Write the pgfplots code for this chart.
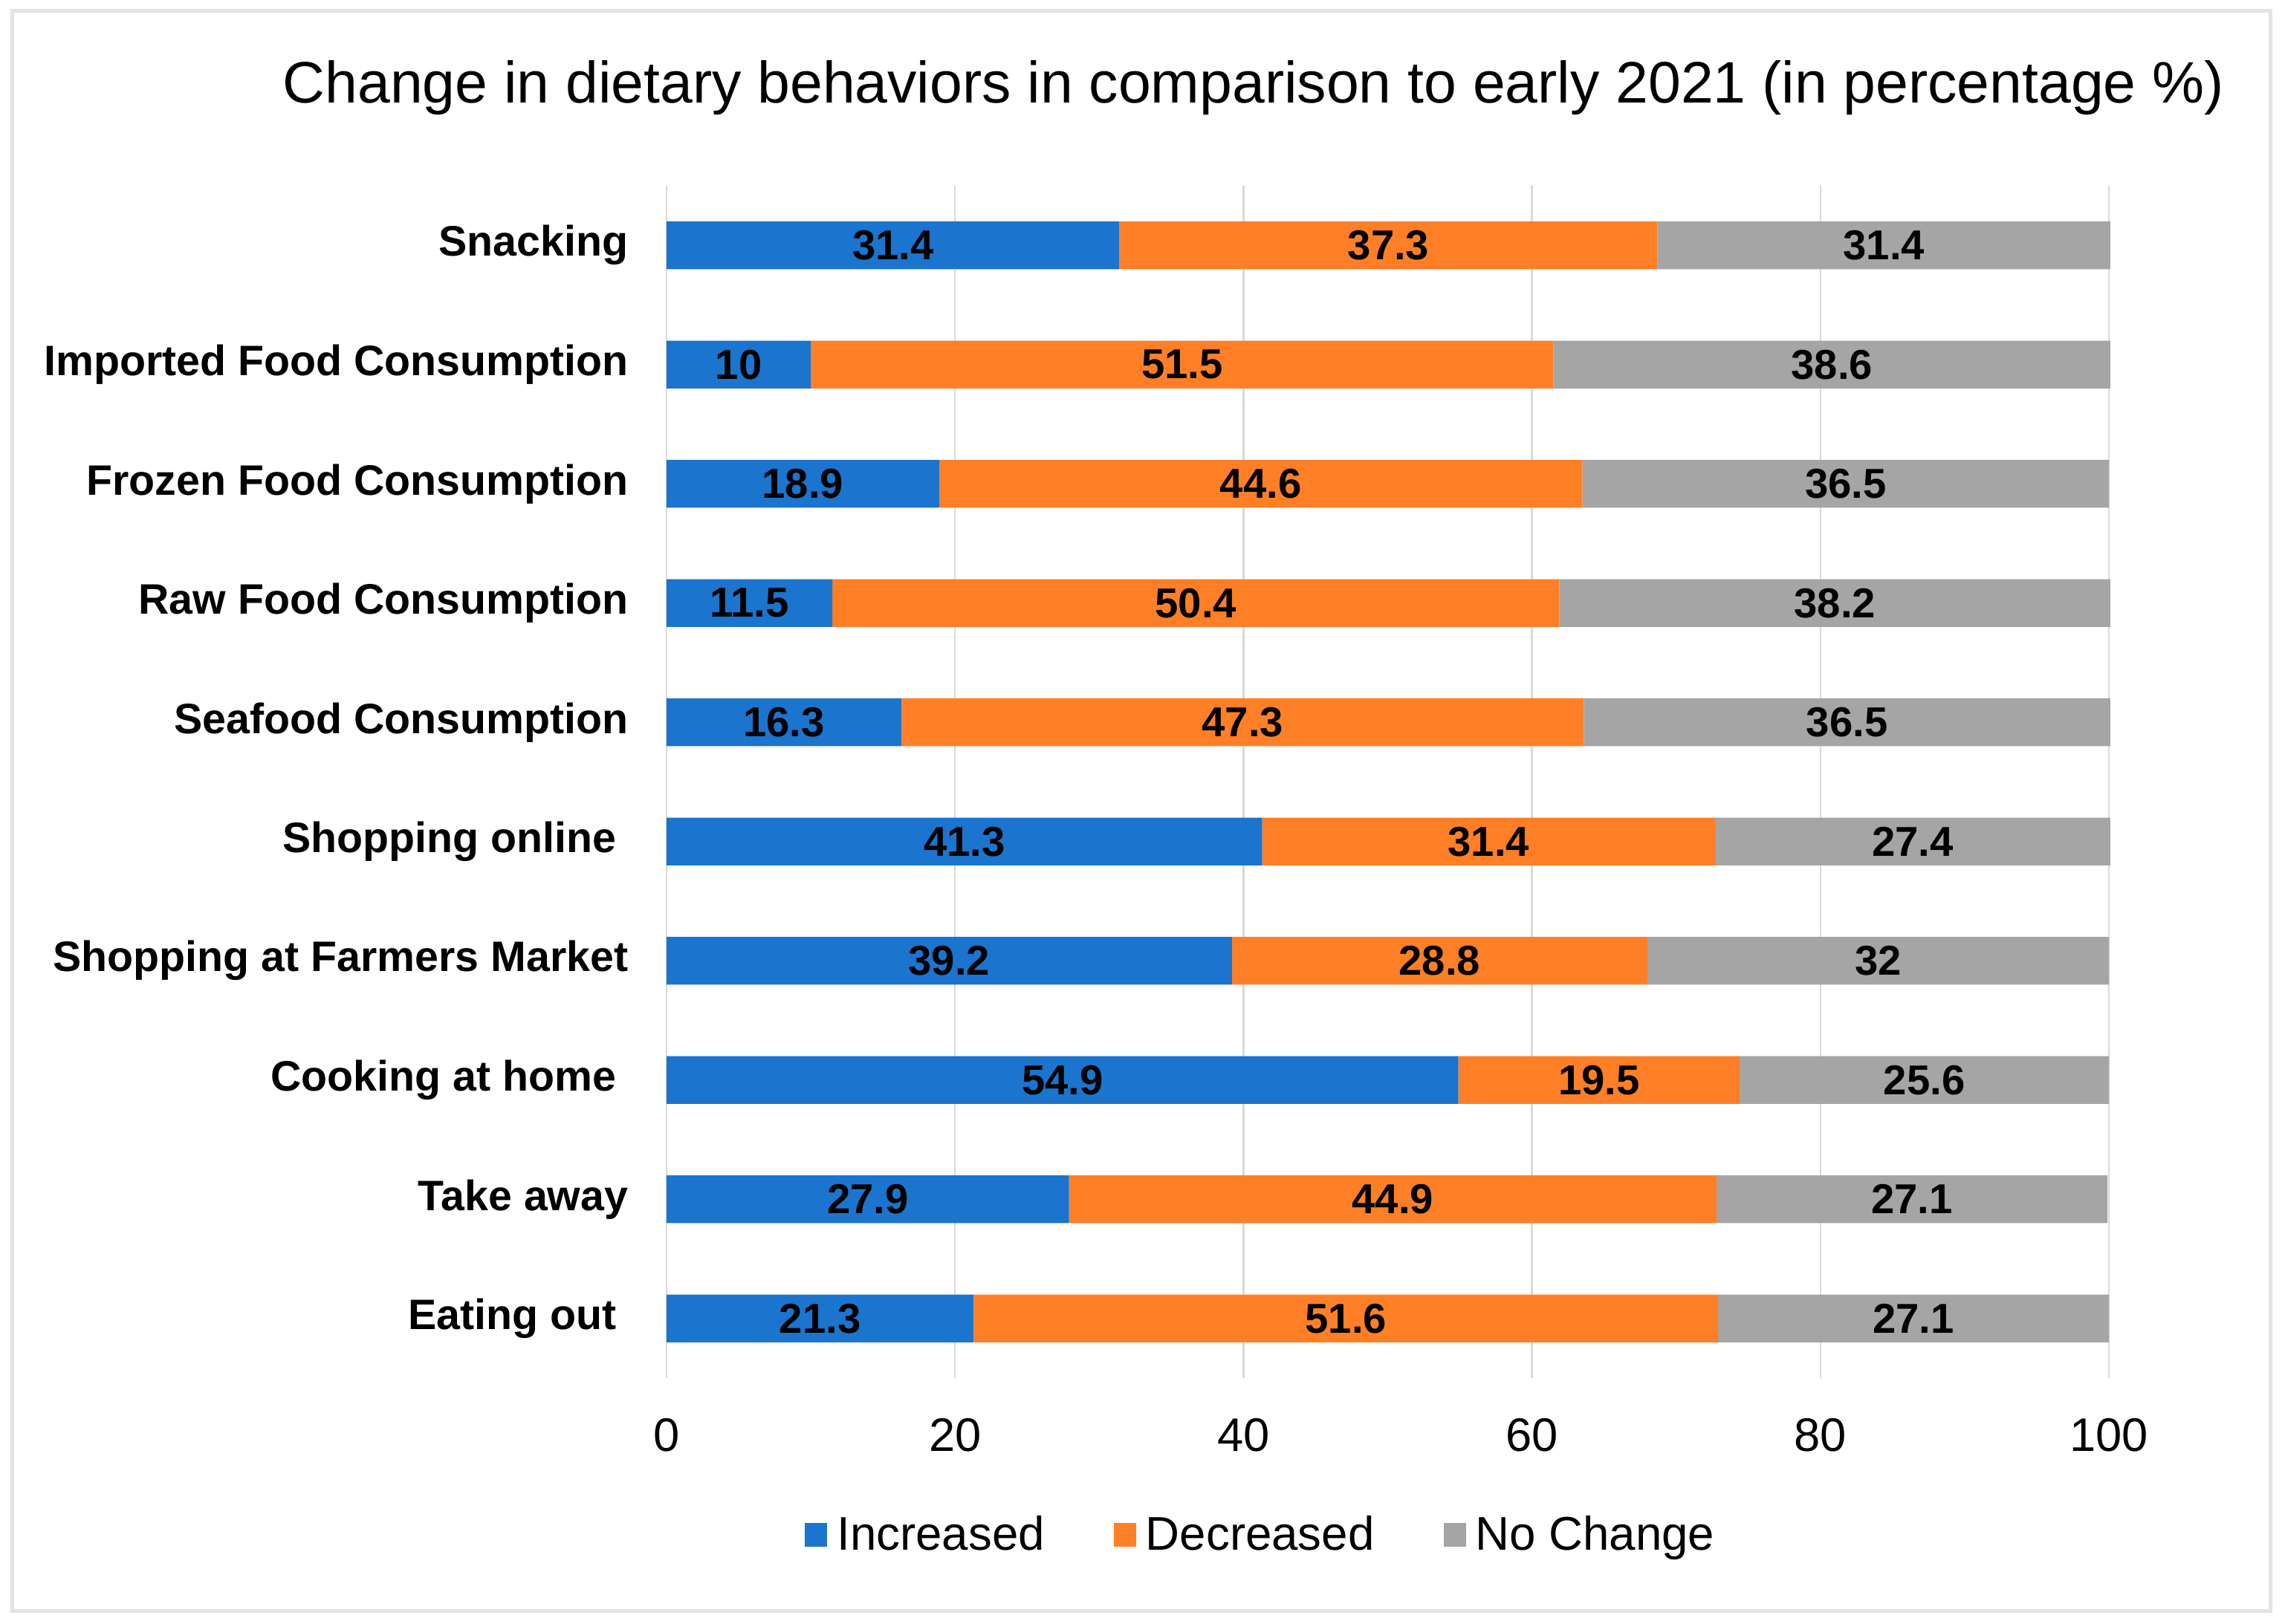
\documentclass[border=0pt]{standalone}
\usepackage{fontspec}
\setmainfont{Liberation Sans}
\usepackage{pgfplots}
\pgfplotsset{compat=1.18}
\usepackage{pgfplotstable}
\definecolor{cinc}{HTML}{1B74CD}
\definecolor{cdec}{HTML}{FF7F27}
\definecolor{cnoc}{HTML}{A5A5A5}
\definecolor{gridgray}{HTML}{D9D9D9}
\definecolor{framegray}{HTML}{E3E3E3}

% pos: 9 = top row (Snacking), 0 = bottom row (Eating out)
\pgfplotstableread{
pos inc  dec  noc
9   31.4 37.3 31.4
8   10   51.5 38.6
7   18.9 44.6 36.5
6   11.5 50.4 38.2
5   16.3 47.3 36.5
4   41.3 31.4 27.4
3   39.2 28.8 32
2   54.9 19.5 25.6
1   27.9 44.9 27.1
0   21.3 51.6 27.1
}\dietdata

% trailing blank as in the source labels
\newcommand{\tsp}{\hspace*{0.28em}\hbox{}}

\begin{document}
\begin{tikzpicture}
\useasboundingbox (-8.97,-3.30) rectangle (21.78,18.55);
\draw[framegray, line width=0.05cm] (-8.80,-3.13) rectangle (21.58,18.40);
\node[font=\fontsize{22.4}{26}\selectfont] at (7.90,17.37) {Change in dietary behaviors in comparison to early 2021 (in percentage \%)};
\begin{axis}[
    scale only axis,
    width=19.41cm, height=16.05cm,
    clip=false,
    xbar stacked,
    bar width=0.4,
    xmin=0, xmax=100,
    ymin=-0.5, ymax=9.5,
    xtick={0,20,...,100},
    ytick={0,...,9},
    yticklabels={Eating out\tsp,Take away,Cooking at home\tsp,Shopping at Farmers Market,Shopping online\tsp,Seafood Consumption,Raw Food Consumption,Frozen Food Consumption,Imported Food Consumption,Snacking},
    axis line style={draw=none},
    major tick length=0pt,
    xmajorgrids,
    grid style={gridgray, line width=0.25mm},
    /pgf/number format/assume math mode=true,
    xticklabel style={font=\fontsize{18}{20}\selectfont, inner sep=0pt, anchor=north, yshift=-0.54cm},
    yticklabel style={font=\fontsize{16.3}{18}\selectfont\bfseries, inner sep=0pt, anchor=east, xshift=-0.51cm},
    point meta=explicit symbolic,
    nodes near coords,
    every node near coord/.append style={font=\fontsize{16}{18}\selectfont\bfseries, anchor=center, inner sep=0pt},
    legend columns=3,
    legend style={at={(0.4132,-0.1315)}, anchor=center, draw=none, fill=none,
        font=\fontsize{18.1}{20}\selectfont,
        /tikz/every odd column/.append style={column sep=0.06cm},
        /tikz/every even column/.append style={column sep=0.86cm}},
    legend cell align=left,
    legend image code/.code={\fill[#1] (0cm,-0.16cm) rectangle (0.3cm,0.16cm);},
]
\addplot[fill=cinc, draw=none] table[x=inc, y=pos, meta=inc] {\dietdata};
\addlegendentry{Increased}
\addplot[fill=cdec, draw=none] table[x=dec, y=pos, meta=dec] {\dietdata};
\addlegendentry{Decreased}
\addplot[fill=cnoc, draw=none] table[x=noc, y=pos, meta=noc] {\dietdata};
\addlegendentry{No Change}
\end{axis}
\end{tikzpicture}
\end{document}
